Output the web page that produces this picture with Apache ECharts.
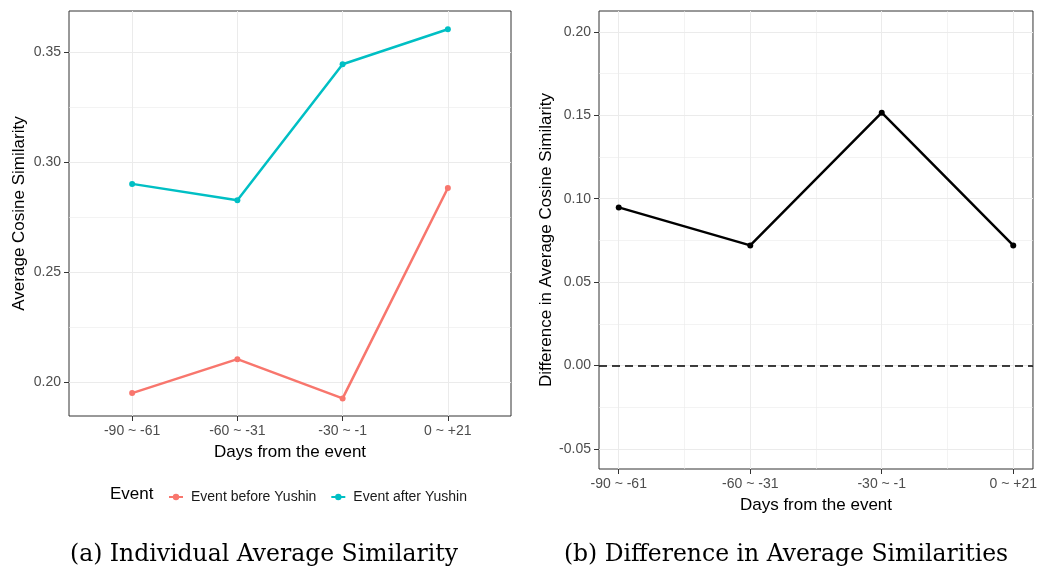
<!DOCTYPE html>
<html>
<head>
<meta charset="utf-8">
<script src="https://cdn.jsdelivr.net/npm/echarts@6/dist/echarts.min.js"></script>
<style>html,body{margin:0;padding:0;background:#fff}#c{width:1040px;height:567px}</style>
</head>
<body>
<div id="c"></div>
<script>
var categories = ['-90 ~ -61', '-60 ~ -31', '-30 ~ -1', '0 ~ +21'];
var beforeYushin = [0.1951, 0.2105, 0.1927, 0.2882];
var afterYushin = [0.2901, 0.2827, 0.3444, 0.3603];
var diffValues = [0.0948, 0.0720, 0.1516, 0.0720];
var leftYTicks = [0.20, 0.25, 0.30, 0.35];
var leftYMinor = [0.225, 0.275, 0.325];
var rightYTicks = [-0.05, 0.00, 0.05, 0.10, 0.15, 0.20];
var rightYMinor = [-0.025, 0.025, 0.075, 0.125, 0.175];
var rightXMinor = [1.5, 2.5, 3.5];
var catPositions = [1, 2, 3, 4];

function pairs(arr) { return arr.map(function (v, i) { return [i + 1, v]; }); }

var SANS = 'Liberation Sans, Arial, Helvetica, sans-serif';
var tickColor = '#333333';
var labelColor = '#4d4d4d';
var gridMajor = '#ebebeb';

function mainX(gridIndex, min, max) {
  return {
    type: 'value', gridIndex: gridIndex, min: min, max: max,
    name: 'Days from the event', nameLocation: 'middle', nameGap: 28,
    nameTextStyle: { fontFamily: SANS, fontSize: 17, color: '#000' },
    axisLine: { show: false, onZero: false },
    axisTick: { show: true, length: 5, customValues: catPositions, lineStyle: { color: tickColor } },
    axisLabel: { customValues: catPositions, margin: 8, fontFamily: SANS, fontSize: 14, color: labelColor,
      formatter: function (v) { return categories[Math.round(v) - 1]; } },
    splitLine: { show: true, lineStyle: { color: gridMajor, width: 1 } }
  };
}
function minorAxis(gridIndex, min, max, vals) {
  return {
    type: 'value', gridIndex: gridIndex, min: min, max: max,
    axisLine: { show: false, onZero: false },
    axisTick: { show: false, customValues: vals },
    axisLabel: { show: false, customValues: vals },
    splitLine: { show: true, lineStyle: { color: gridMajor, width: 0.6 } }
  };
}
function mainY(gridIndex, min, max, ticks, name, gap) {
  return {
    type: 'value', gridIndex: gridIndex, min: min, max: max, position: 'left',
    name: name, nameLocation: 'middle', nameGap: gap,
    nameTextStyle: { fontFamily: SANS, fontSize: 17, color: '#000' },
    axisLine: { show: false, onZero: false },
    axisTick: { show: true, length: 5, customValues: ticks, lineStyle: { color: tickColor } },
    axisLabel: { customValues: ticks, margin: 8, fontFamily: SANS, fontSize: 14, color: labelColor,
      formatter: function (v) { return v.toFixed(2); } },
    splitLine: { show: true, lineStyle: { color: gridMajor, width: 1 } }
  };
}

var chart = echarts.init(document.getElementById('c'), null, { renderer: 'canvas' });
var option = {
  backgroundColor: '#ffffff',
  animation: false,
  grid: [
    { left: 69, top: 11, width: 442, height: 405, show: true, borderColor: '#333333', borderWidth: 1, backgroundColor: 'transparent' },
    { left: 599, top: 11, width: 437, height: 458, show: true, borderColor: '#333333', borderWidth: 1, backgroundColor: 'transparent' }
  ],
  xAxis: [
    mainX(0, 0.4, 4.6),
    mainX(1, 0.85, 4.15),
    minorAxis(1, 0.85, 4.15, rightXMinor)
  ],
  yAxis: [
    mainY(0, 0.1847, 0.3686, leftYTicks, 'Average Cosine Similarity', 41),
    mainY(1, -0.0621, 0.2126, rightYTicks, 'Difference in Average Cosine Similarity', 44),
    minorAxis(0, 0.1847, 0.3686, leftYMinor),
    minorAxis(1, -0.0621, 0.2126, rightYMinor)
  ],
  legend: {
    left: 163, top: 485, itemWidth: 14, itemHeight: 8, itemGap: 14,
    textStyle: { fontFamily: SANS, fontSize: 14, color: '#1a1a1a', padding: [0, 0, 0, 3] },
    data: ['Event before Yushin', 'Event after Yushin']
  },
  graphic: [
    { type: 'text', left: 110, top: 486, style: { text: 'Event', fontFamily: SANS, fontSize: 17, fill: '#000' } },
    { type: 'text', x: 264, y: 555, style: { text: '(a) Individual Average Similarity', fontFamily: 'DejaVu Serif, serif', fontSize: 23.5, fill: '#000', textAlign: 'center', textVerticalAlign: 'middle' } },
    { type: 'text', x: 786, y: 555, style: { text: '(b) Difference in Average Similarities', fontFamily: 'DejaVu Serif, serif', fontSize: 23.5, fill: '#000', textAlign: 'center', textVerticalAlign: 'middle' } }
  ],
  series: [
    { name: 'Event before Yushin', type: 'line', xAxisIndex: 0, yAxisIndex: 0, data: pairs(beforeYushin),
      color: '#F8766D', symbol: 'circle', symbolSize: 6, clip: false,
      lineStyle: { width: 2.5, color: '#F8766D' }, itemStyle: { color: '#F8766D' } },
    { name: 'Event after Yushin', type: 'line', xAxisIndex: 0, yAxisIndex: 0, data: pairs(afterYushin),
      color: '#00BFC4', symbol: 'circle', symbolSize: 6, clip: false,
      lineStyle: { width: 2.5, color: '#00BFC4' }, itemStyle: { color: '#00BFC4' } },
    { name: 'Difference', type: 'line', xAxisIndex: 1, yAxisIndex: 1, data: pairs(diffValues),
      color: '#000000', symbol: 'circle', symbolSize: 6, clip: false,
      lineStyle: { width: 2.5, color: '#000000' }, itemStyle: { color: '#000000' },
      markLine: { silent: true, symbol: 'none', label: { show: false },
        lineStyle: { color: '#000000', type: [8, 5], width: 1.6 },
        data: [{ yAxis: 0 }] } }
  ]
};
chart.setOption(option);
</script>
</body>
</html>
